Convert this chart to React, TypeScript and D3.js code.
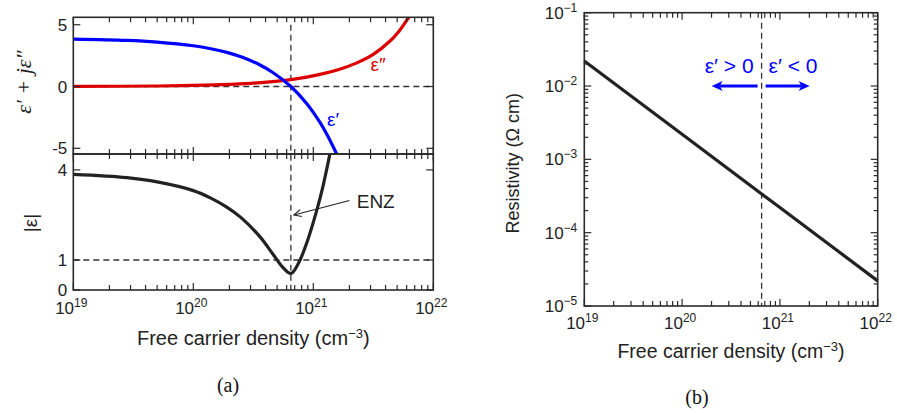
import * as d3 from "d3";

// ---- panel (a): permittivity vs free carrier density ----
const realDensity = [1e19, 2.8e19, 5e19, 1e20, 1.4e20, 1.9e20, 2.5e20, 3.6e20, 4.6e20, 6.5e20, 8.8e20, 1.14e21, 1.3e21, 1.56e21];
const epsReal = [3.84, 3.73, 3.59, 3.3, 3.06, 2.76, 2.4, 1.74, 1.13, 0, -1.37, -2.92, -3.88, -5.42];

const imagDensity = [1e19, 5e19, 1e20, 2e20, 3e20, 4.6e20, 6.5e20, 8.8e20, 1.21e21, 1.66e21, 2.28e21, 3.16e21, 4.36e21, 5.2e21, 6.1e21, 6.6e21];
const epsImag = [0.01, 0.04, 0.085, 0.17, 0.26, 0.4, 0.56, 0.76, 1.04, 1.4, 1.89, 2.6, 3.68, 4.5, 5.45, 5.9];

const absDensity = [1e19, 2.8e19, 5e19, 1e20, 1.4e20, 1.9e20, 2.5e20, 3.6e20, 4.6e20, 5.5e20, 6.5e20, 7.5e20, 8.8e20, 1.07e21, 1.2e21, 1.37e21];
const epsAbs = [3.85, 3.74, 3.6, 3.31, 3.06, 2.76, 2.41, 1.77, 1.2, 0.78, 0.55, 0.88, 1.56, 2.66, 3.43, 4.5];

// ---- panel (b): resistivity ----
const rhoDensity = [1e19, 1e20, 1e21, 1e22];
const resistivity = [2.2e-2, 2.2e-3, 2.2e-4, 2.2e-5];

// ticks
const densityExps = [19, 20, 21, 22];
const upperTicks = [-5, 0, 5];
const lowerTicks = [0, 1, 4];
const rhoExps = [-5, -4, -3, -2, -1];
const enzDensity = 6.5e20;

const sans = "'Liberation Sans', Arial, Helvetica, sans-serif";
const serif = "'Liberation Serif', 'Times New Roman', serif";
const ink = "#2a2a2a";
const blue = "#0000ff";
const red = "#dd0000";

type Pt = [number, number];
const zip = (a: number[], b: number[]): Pt[] => a.map((v, i) => [v, b[i]]);

export default function App() {
  // scales, panel (a)
  const xa = d3.scaleLog().domain([1e19, 1e22]).range([73.3, 433.3]);
  const yUp = d3.scaleLinear().domain([-5.46, 5.6]).range([154, 17.3]);
  const yLo = d3.scaleLinear().domain([0, 4.53]).range([290, 154]);
  // scales, panel (b)
  const xb = d3.scaleLog().domain([1e19, 1e22]).range([584.3, 877.7]);
  const yb = d3.scaleLog().domain([1e-5, 1e-1]).range([306, 12.7]);

  const minorX = d3.range(19, 22).flatMap((k) => d3.range(2, 10).map((m) => m * 10 ** k));
  const minorRho = d3.range(-5, -1).flatMap((k) => d3.range(2, 10).map((m) => m * 10 ** k));
  const majorX = densityExps.map((e) => 10 ** e);

  const smooth = d3.curveCatmullRom.alpha(0.5);
  const lineUp = d3.line<Pt>().x((d) => xa(d[0])).y((d) => yUp(d[1])).curve(smooth);
  const lineLo = d3.line<Pt>().x((d) => xa(d[0])).y((d) => yLo(d[1])).curve(smooth);
  const lineRho = d3.line<Pt>().x((d) => xb(d[0])).y((d) => yb(d[1]));

  const ticks: JSX.Element[] = [];
  let k = 0;
  const t = (x1: number, y1: number, x2: number, y2: number) =>
    ticks.push(<line key={"t" + k++} x1={x1} y1={y1} x2={x2} y2={y2} stroke={ink} strokeWidth={1.2} />);

  // panel (a) x ticks: top, divider (both ways), bottom
  const [aTop, aMid, aBot] = [yUp.range()[1], yUp.range()[0], yLo.range()[0]];
  [...majorX.map((v) => [v, 7]), ...minorX.map((v) => [v, 5])].forEach(([v, len]) => {
    const x = xa(v);
    t(x, aTop, x, aTop + len);
    t(x, aMid - len, x, aMid + len);
    t(x, aBot, x, aBot - len);
  });
  const [aL, aR] = xa.range();
  upperTicks.forEach((v) => {
    t(aL, yUp(v), aL + 7, yUp(v));
    t(aR, yUp(v), aR - 7, yUp(v));
  });
  lowerTicks.forEach((v) => {
    t(aL, yLo(v), aL + 7, yLo(v));
    t(aR, yLo(v), aR - 7, yLo(v));
  });

  // panel (b) ticks
  const [bL, bR] = xb.range();
  const [bBot, bTop] = yb.range();
  [...majorX.map((v) => [v, 7]), ...minorX.map((v) => [v, 5])].forEach(([v, len]) => {
    const x = xb(v);
    t(x, bTop, x, bTop + len);
    t(x, bBot, x, bBot - len);
  });
  [...rhoExps.map((e) => [10 ** e, 7]), ...minorRho.map((v) => [v, 4])].forEach(([v, len]) => {
    const y = yb(v);
    t(bL, y, bL + len, y);
    t(bR, y, bR - len, y);
  });

  // ENZ arrow
  const tip: Pt = [xa(6.9e20), yLo(2.5)];
  const tail: Pt = [xa(2e21), yLo(2.98)];
  const ang = Math.atan2(tail[1] - tip[1], tail[0] - tip[0]);
  const head = (a: number): Pt => [tip[0] + 8 * Math.cos(ang + a), tip[1] + 8 * Math.sin(ang + a)];
  const h1 = head(0.45);
  const h2 = head(-0.45);

  // blue arrows in (b)
  const xe = xb(enzDensity);
  const ya = yb(1e-2);
  const arrow = (from: number, to: number) => {
    const d = Math.sign(to - from);
    return (
      <g>
        <line x1={from} y1={ya} x2={to - d * 8} y2={ya} stroke={blue} strokeWidth={3} />
        <path d={`M${to},${ya} L${to - d * 11},${ya - 5} L${to - d * 8},${ya} L${to - d * 11},${ya + 5} Z`} fill={blue} />
      </g>
    );
  };

  const dash = { stroke: "#333", strokeWidth: 1.3, strokeDasharray: "6,4", fill: "none" };

  return (
    <svg width={897} height={413} style={{ position: "absolute", left: 0, top: 0, background: "#fff" }} fontFamily={sans}>
      <defs>
        <clipPath id="clipUp">
          <rect x={aL} y={aTop} width={aR - aL} height={aMid - aTop} />
        </clipPath>
        <clipPath id="clipLo">
          <rect x={aL} y={aMid} width={aR - aL} height={aBot - aMid} />
        </clipPath>
      </defs>

      {/* panel (a) guides */}
      <line x1={aL} x2={aR} y1={yUp(0)} y2={yUp(0)} {...dash} />
      <line x1={aL} x2={aR} y1={yLo(1)} y2={yLo(1)} {...dash} />
      <line x1={xa(enzDensity)} x2={xa(enzDensity)} y1={yUp(5)} y2={aBot} {...dash} />

      {/* panel (a) curves */}
      <g clipPath="url(#clipUp)" fill="none" strokeWidth={3.2}>
        <path d={lineUp(zip(imagDensity, epsImag)) || ""} stroke={red} />
        <path d={lineUp(zip(realDensity, epsReal)) || ""} stroke={blue} />
      </g>
      <g clipPath="url(#clipLo)" fill="none" strokeWidth={3.2}>
        <path d={lineLo(zip(absDensity, epsAbs)) || ""} stroke="#222" />
      </g>

      {/* panel (a) frames */}
      <rect x={aL} y={aTop} width={aR - aL} height={aMid - aTop} fill="none" stroke={ink} strokeWidth={1.6} />
      <rect x={aL} y={aMid} width={aR - aL} height={aBot - aMid} fill="none" stroke={ink} strokeWidth={1.6} />

      {/* panel (b) */}
      <line x1={xe} x2={xe} y1={bTop} y2={bBot} {...dash} />
      <path d={lineRho(zip(rhoDensity, resistivity)) || ""} stroke="#222" strokeWidth={3.2} fill="none" />
      <rect x={bL} y={bTop} width={bR - bL} height={bBot - bTop} fill="none" stroke={ink} strokeWidth={1.6} />

      {ticks}

      {/* ENZ annotation */}
      <line x1={tail[0]} y1={tail[1]} x2={tip[0]} y2={tip[1]} stroke="#222" strokeWidth={1.1} />
      <polyline points={`${h1[0]},${h1[1]} ${tip[0]},${tip[1]} ${h2[0]},${h2[1]}`} fill="none" stroke="#222" strokeWidth={1.1} />
      <text x={xa(2.3e21)} y={yLo(2.98) + 7} fontSize={19} fill="#222">ENZ</text>

      {/* curve labels */}
      <text x={xa(3.0e21)} y={yUp(1.25)} fontSize={19} fill={red}>ε″</text>
      <text x={xa(1.3e21)} y={yUp(-3.2)} fontSize={19} fill={blue}>ε′</text>

      {/* panel (a) tick labels */}
      <g fontSize={17} fill="#222">
        {upperTicks.map((v) => (
          <text key={"u" + v} x={aL - 6} y={yUp(v) + 6} textAnchor="end">{v}</text>
        ))}
        {lowerTicks.map((v) => (
          <text key={"l" + v} x={aL - 6} y={yLo(v) + 6} textAnchor="end">{v}</text>
        ))}
        {densityExps.map((e) => (
          <text key={"xa" + e} x={xa(10 ** e) - 2} y={aBot + 24} textAnchor="middle">
            10<tspan dy={-7} fontSize={12}>{e}</tspan>
          </text>
        ))}
      </g>

      {/* panel (b) tick labels */}
      <g fontSize={17} fill="#222">
        {densityExps.map((e) => (
          <text key={"xb" + e} x={xb(10 ** e) - 2} y={bBot + 23} textAnchor="middle">
            10<tspan dy={-7} fontSize={12}>{e}</tspan>
          </text>
        ))}
        {rhoExps.map((e) => (
          <text key={"yb" + e} x={bL - 7} y={yb(10 ** e) + 6} textAnchor="end">
            10<tspan dy={-7} fontSize={12}>{"−" + Math.abs(e)}</tspan>
          </text>
        ))}
      </g>

      {/* axis titles */}
      <text transform="translate(31,82) rotate(-90)" textAnchor="middle" fontFamily={serif} fontStyle="italic" fontSize={22} fill="#222">
        ε′ + jε″
      </text>
      <text transform="translate(37,223) rotate(-90)" textAnchor="middle" fontSize={19} fill="#222">|ε|</text>
      <text x={(aL + aR) / 2} y={345} textAnchor="middle" fontSize={20} fill="#222">
        Free carrier density (cm<tspan dy={-7} fontSize={13}>−3</tspan><tspan dy={7}>)</tspan>
      </text>
      <text transform={`translate(519,${(bTop + bBot) / 2 + 4}) rotate(-90)`} textAnchor="middle" fontSize={18} fill="#222">
        Resistivity (Ω cm)
      </text>
      <text x={(bL + bR) / 2} y={358} textAnchor="middle" fontSize={19.5} fill="#222">
        Free carrier density (cm<tspan dy={-7} fontSize={13}>−3</tspan><tspan dy={7}>)</tspan>
      </text>

      {/* blue region markers */}
      <text x={xe - 8} y={ya - 13} textAnchor="end" fontSize={21} fill={blue}>ε′ &gt; 0</text>
      <text x={xe + 7} y={ya - 13} fontSize={21} fill={blue}>ε′ &lt; 0</text>
      {arrow(xe - 4, xe - 50)}
      {arrow(xe + 4, xe + 48)}

      {/* subfigure captions */}
      <text x={228} y={392} textAnchor="middle" fontFamily={serif} fontSize={20} fill="#111">(a)</text>
      <text x={697} y={404} textAnchor="middle" fontFamily={serif} fontSize={20} fill="#111">(b)</text>
    </svg>
  );
}
